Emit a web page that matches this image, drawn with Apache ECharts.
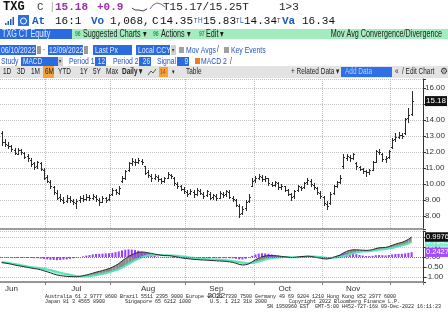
<!DOCTYPE html>
<html><head><meta charset="utf-8">
<script src="https://cdn.jsdelivr.net/npm/echarts@6/dist/echarts.min.js"></script>
<style>html,body{margin:0;padding:0;background:#fff;}#c{width:448px;height:322px;}</style>
</head><body><div id="c"></div><script>
const dates = ['2022-06-10','2022-06-13','2022-06-14','2022-06-15','2022-06-16','2022-06-17','2022-06-21','2022-06-22','2022-06-23','2022-06-24','2022-06-27','2022-06-28','2022-06-29','2022-06-30',
'2022-07-01','2022-07-05','2022-07-06','2022-07-07','2022-07-08','2022-07-11','2022-07-12','2022-07-13','2022-07-14','2022-07-15','2022-07-18','2022-07-19','2022-07-20','2022-07-21','2022-07-22','2022-07-25','2022-07-26','2022-07-27','2022-07-28','2022-07-29',
'2022-08-01','2022-08-02','2022-08-03','2022-08-04','2022-08-05','2022-08-08','2022-08-09','2022-08-10','2022-08-11','2022-08-12','2022-08-15','2022-08-16','2022-08-17','2022-08-18','2022-08-19','2022-08-22','2022-08-23','2022-08-24','2022-08-25','2022-08-26','2022-08-29','2022-08-30','2022-08-31',
'2022-09-01','2022-09-02','2022-09-06','2022-09-07','2022-09-08','2022-09-09','2022-09-12','2022-09-13','2022-09-14','2022-09-15','2022-09-16','2022-09-19','2022-09-20','2022-09-21','2022-09-22','2022-09-23','2022-09-26','2022-09-27','2022-09-28','2022-09-29','2022-09-30',
'2022-10-03','2022-10-04','2022-10-05','2022-10-06','2022-10-07','2022-10-10','2022-10-11','2022-10-12','2022-10-13','2022-10-14','2022-10-17','2022-10-18','2022-10-19','2022-10-20','2022-10-21','2022-10-24','2022-10-25','2022-10-26','2022-10-27','2022-10-28','2022-10-31',
'2022-11-01','2022-11-02','2022-11-03','2022-11-04','2022-11-07','2022-11-08','2022-11-09','2022-11-10','2022-11-11','2022-11-14','2022-11-15','2022-11-16','2022-11-17','2022-11-18','2022-11-21','2022-11-22','2022-11-23','2022-11-25','2022-11-28','2022-11-29','2022-11-30',
'2022-12-01','2022-12-02','2022-12-05','2022-12-06','2022-12-07','2022-12-08','2022-12-09'];

const open = [13.20,12.65,12.45,12.40,12.15,11.90,12.15,11.95,11.75,11.50,
11.30,11.10,11.30,10.90,10.45,10.15,9.80,9.45,9.20,9.00,
8.95,9.15,8.95,8.80,9.00,9.10,9.05,9.20,9.15,9.20,
9.00,8.90,9.10,9.05,9.35,9.60,9.45,10.20,10.40,10.85,
11.30,11.40,11.40,11.45,11.10,10.75,10.50,10.40,10.45,10.30,
10.20,10.40,10.55,10.40,10.00,9.85,9.70,9.50,9.45,9.50,
9.40,9.55,9.40,9.30,9.40,9.20,9.25,9.15,9.40,9.35,
9.50,9.15,9.00,8.65,8.20,8.50,8.95,9.90,10.25,10.40,
10.45,10.30,10.35,10.00,9.95,10.05,9.80,9.85,9.60,9.35,
9.25,9.60,9.80,9.80,10.10,10.20,9.95,9.75,9.45,9.20,
8.75,8.80,9.45,9.90,10.15,11.10,11.65,11.70,11.65,11.30,
11.05,10.95,10.80,10.75,10.90,11.40,12.00,11.90,11.55,11.70,
12.30,12.80,12.95,13.05,13.20,14.10,14.35];
const high = [13.30,12.80,12.60,12.45,12.25,12.25,12.20,12.00,11.85,11.60,
11.35,11.45,11.40,11.00,10.55,10.25,9.90,9.60,9.35,9.20,
9.30,9.25,9.05,9.05,9.25,9.30,9.35,9.30,9.40,9.30,
9.10,9.25,9.20,9.40,9.75,9.70,9.85,10.50,10.90,11.40,
11.60,11.55,11.65,11.55,11.15,10.85,10.60,10.65,10.55,10.40,
10.45,10.75,10.65,10.45,10.10,9.95,9.80,9.60,9.70,9.60,
9.75,9.70,9.50,9.65,9.50,9.40,9.35,9.55,9.50,9.65,
9.60,9.25,9.05,8.75,8.60,9.00,9.35,10.35,10.50,10.65,
10.55,10.50,10.40,10.15,10.20,10.10,10.00,9.90,9.70,9.45,
9.60,9.95,9.90,10.15,10.40,10.30,10.05,9.80,9.55,9.25,
8.95,9.50,9.95,10.20,10.55,11.85,11.90,11.80,11.95,11.35,
11.15,11.00,10.90,10.95,11.45,12.10,12.20,11.95,11.75,12.15,
12.85,13.20,13.25,13.20,14.15,14.75,15.83];
const low = [12.45,12.40,12.25,12.05,11.85,11.85,11.90,11.60,11.45,11.15,
10.95,11.00,10.85,10.30,10.10,9.75,9.40,9.05,8.95,8.80,
8.90,8.90,8.75,8.50,8.90,8.95,9.00,9.00,9.05,8.95,
8.70,8.85,8.90,9.00,9.30,9.40,9.35,10.10,10.30,10.80,
11.20,11.20,11.30,11.25,10.60,10.45,10.20,10.30,10.20,10.05,
10.15,10.35,10.35,9.95,9.75,9.60,9.45,9.25,9.35,9.20,
9.30,9.35,9.10,9.25,9.05,9.05,9.00,9.10,9.20,9.25,
9.10,8.95,8.60,7.95,8.10,8.40,8.85,9.85,10.10,10.30,
10.20,10.20,9.95,9.85,9.90,9.70,9.70,9.55,9.30,9.00,
9.15,9.55,9.65,9.75,10.00,9.90,9.70,9.40,9.10,8.70,
8.45,8.75,9.40,9.80,10.05,11.00,11.50,11.45,11.55,10.95,
10.85,10.70,10.50,10.65,10.85,11.35,11.85,11.45,11.40,11.65,
12.25,12.70,12.85,12.85,13.15,13.90,14.34];
const close = [12.60,12.50,12.35,12.20,11.95,12.10,12.00,11.70,11.60,11.25,
11.05,11.35,10.95,10.40,10.20,9.85,9.50,9.15,9.05,8.90,
9.10,9.00,8.85,8.95,9.15,9.05,9.20,9.10,9.25,9.05,
8.85,9.15,9.00,9.30,9.60,9.50,9.75,10.35,10.80,11.30,
11.45,11.35,11.50,11.40,10.70,10.55,10.35,10.50,10.30,10.20,
10.35,10.60,10.50,10.05,9.85,9.70,9.55,9.40,9.55,9.35,
9.60,9.45,9.25,9.55,9.15,9.30,9.10,9.45,9.30,9.55,
9.20,9.05,8.70,8.15,8.45,8.90,9.20,10.20,10.35,10.50,
10.30,10.40,10.05,9.95,10.10,9.80,9.90,9.65,9.40,9.20,
9.55,9.85,9.75,10.05,10.25,10.00,9.80,9.50,9.25,8.80,
8.65,9.40,9.85,10.10,10.40,11.70,11.75,11.60,11.85,11.10,
10.95,10.80,10.75,10.85,11.35,12.05,12.00,11.55,11.60,12.05,
12.75,12.95,13.05,13.00,14.05,14.28,15.18];

const macd = [-0.28,-0.30,-0.33,-0.36,-0.40,-0.43,-0.46,-0.49,-0.52,-0.55,
-0.58,-0.60,-0.64,-0.69,-0.74,-0.79,-0.85,-0.90,-0.93,-0.95,
-0.97,-0.98,-0.98,-0.99,-0.97,-0.94,-0.90,-0.86,-0.81,-0.76,
-0.72,-0.68,-0.63,-0.58,-0.51,-0.43,-0.33,-0.20,-0.08,0.03,
0.11,0.18,0.23,0.25,0.24,0.21,0.18,0.15,0.12,0.09,
0.07,0.07,0.06,0.03,0.00,-0.03,-0.06,-0.08,-0.10,-0.12,
-0.13,-0.14,-0.15,-0.16,-0.17,-0.18,-0.19,-0.20,-0.21,-0.22,
-0.24,-0.27,-0.31,-0.37,-0.40,-0.39,-0.34,-0.24,-0.14,-0.06,
0.01,0.05,0.07,0.07,0.06,0.05,0.03,0.01,-0.01,-0.03,
-0.02,0.00,0.02,0.03,0.04,0.03,0.00,-0.03,-0.06,-0.09,
-0.10,-0.07,-0.02,0.04,0.10,0.20,0.28,0.33,0.36,0.36,
0.35,0.34,0.33,0.34,0.37,0.42,0.46,0.47,0.48,0.52,
0.58,0.64,0.69,0.73,0.80,0.88,0.9976];
const signal = [-0.25,-0.27,-0.29,-0.32,-0.35,-0.38,-0.41,-0.44,-0.47,-0.50,
-0.52,-0.54,-0.56,-0.59,-0.62,-0.65,-0.70,-0.74,-0.78,-0.82,
-0.85,-0.89,-0.92,-0.95,-0.97,-0.97,-0.97,-0.96,-0.94,-0.91,
-0.88,-0.85,-0.81,-0.77,-0.72,-0.67,-0.61,-0.53,-0.44,-0.35,
-0.26,-0.17,-0.09,-0.02,0.04,0.07,0.09,0.10,0.10,0.10,
0.09,0.09,0.08,0.07,0.06,0.04,0.02,0.00,-0.02,-0.04,
-0.06,-0.08,-0.09,-0.10,-0.11,-0.12,-0.13,-0.14,-0.15,-0.16,
-0.18,-0.20,-0.22,-0.25,-0.28,-0.30,-0.31,-0.30,-0.27,-0.23,
-0.18,-0.13,-0.09,-0.06,-0.04,-0.02,-0.01,0.00,0.00,-0.01,
-0.01,-0.01,0.00,0.01,0.02,0.02,0.02,0.01,0.00,-0.02,
-0.04,-0.05,-0.04,-0.02,0.00,0.04,0.09,0.14,0.18,0.22,
0.25,0.27,0.28,0.29,0.31,0.33,0.36,0.38,0.40,0.42,
0.45,0.49,0.53,0.57,0.62,0.67,0.7549];
const hist = [-0.03,-0.03,-0.04,-0.04,-0.05,-0.05,-0.05,-0.05,-0.05,-0.05,
-0.06,-0.06,-0.08,-0.10,-0.12,-0.14,-0.15,-0.16,-0.15,-0.13,
-0.12,-0.09,-0.06,-0.04,0.00,0.03,0.07,0.10,0.13,0.15,
0.16,0.17,0.18,0.19,0.21,0.24,0.28,0.33,0.36,0.38,
0.37,0.35,0.32,0.27,0.20,0.14,0.09,0.05,0.02,-0.01,
-0.02,-0.02,-0.02,-0.04,-0.06,-0.07,-0.08,-0.08,-0.08,-0.08,
-0.07,-0.06,-0.06,-0.06,-0.06,-0.06,-0.06,-0.06,-0.06,-0.06,
-0.06,-0.07,-0.09,-0.12,-0.12,-0.09,-0.03,0.06,0.13,0.17,
0.19,0.18,0.16,0.13,0.10,0.07,0.04,0.01,-0.01,-0.02,
-0.01,0.01,0.02,0.02,0.02,0.01,-0.02,-0.04,-0.06,-0.07,
-0.06,-0.02,0.02,0.06,0.10,0.16,0.19,0.19,0.18,0.14,
0.10,0.07,0.05,0.05,0.06,0.09,0.10,0.09,0.08,0.10,
0.13,0.15,0.16,0.16,0.18,0.21,0.2427];

const monthLabelDates = ['2022-06-15','2022-07-15','2022-08-16','2022-09-15','2022-10-14','2022-11-14'];
const monthLabels = ['Jun','Jul','Aug','Sep\n2022','Oct','Nov'];

const FS = "'Liberation Sans',Arial,sans-serif";
const FM = "'Liberation Mono','DejaVu Sans Mono',monospace";

const n = dates.length;
const xCats = dates.concat(['p1','p2','p3']);
const monthStart = new Set();
dates.forEach((d,i)=>{ if(i>0 && d.slice(5,7)!==dates[i-1].slice(5,7)) monthStart.add(i); });
const labelAt = {};
monthLabelDates.forEach((d,k)=>{ labelAt[d]=monthLabels[k]; });

const ohlcData = dates.map((d,i)=>[i, open[i], high[i], low[i], close[i]]);
const fillData = [];
for(let i=0;i<n-1;i++) fillData.push([i, macd[i], signal[i], macd[i+1], signal[i+1]]);

function renderOHLC(params, api){
  const i = api.value(0);
  const pH = api.coord([i, api.value(2)]);
  const pL = api.coord([i, api.value(3)]);
  const pO = api.coord([i, api.value(1)]);
  const pC = api.coord([i, api.value(4)]);
  const x = Math.round(pH[0]) + 0.5;
  const yo = Math.round(pO[1]) + 0.5, yc = Math.round(pC[1]) + 0.5;
  const st = {stroke:'#2b2b2b', lineWidth:1};
  return {type:'group', children:[
    {type:'line', shape:{x1:x, y1:Math.round(pH[1]), x2:x, y2:Math.round(pL[1])+1}, style:st},
    {type:'line', shape:{x1:x-1.5, y1:yo, x2:x, y2:yo}, style:st},
    {type:'line', shape:{x1:x, y1:yc, x2:x+1.5, y2:yc}, style:st}
  ]};
}
function renderFill(params, api){
  const i = api.value(0);
  const a = api.coord([i, api.value(1)]), b = api.coord([i+1, api.value(3)]);
  const c = api.coord([i+1, api.value(4)]), d = api.coord([i, api.value(2)]);
  const up = api.value(1)+api.value(3) >= api.value(2)+api.value(4);
  return {type:'polygon', shape:{points:[a,b,c,d]}, style:{fill: up ? '#8c8c8c' : '#a6f3d9'}};
}

function T(x,y,text,fill,font,align){
  return {type:'text', x:x, y:y, silent:true, style:{text:text, fill:fill, font:font,
    textAlign:align||'left', textVerticalAlign:'middle', align:align||'left', verticalAlign:'middle'}};
}
// condensed UI text (horizontally squeezed sans)
function N(x,y,text,fill,size,align,bold){
  const t = T(x,y,text,fill,(bold?'bold ':'')+size+'px '+FS,align);
  t.scaleX = 0.72;
  return t;
}
function R(x,y,w,h,fill){ return {type:'rect', silent:true, shape:{x:x,y:y,width:w,height:h}, style:{fill:fill}}; }

const BLUE='#2b6be0', BTX='#e3ebff', LBL='#2352c4', HB='#1a5bbf', PUR='#9b2fae', GRN='#2b9c50', DK='#1d1d1d';
const f11='11px '+FM, b11='bold 11px '+FM;
const graphics = [
  // row 1
  T(3,7,'TXG','#111','bold 12px '+FM),
  T(37,7,'C','#444',f11),
  T(49,7,'|','#aaa',f11),
  T(55,7,'15.18',PUR,b11),
  T(97,7,'+0.9',PUR,b11),
  {type:'polyline', silent:true, shape:{points:[[132,8],[135,10],[139,10],[143,11],[147,9]]}, style:{stroke:'#444',lineWidth:1,fill:null}},
  {type:'polyline', silent:true, shape:{points:[[150,9],[153,5],[157,3],[161,4],[165,7]]}, style:{stroke:'#8a5a9a',lineWidth:1,fill:null}},
  T(163,7,'T15.17/15.25T','#222',f11),
  T(279,7,'1>3','#222',f11),
  // row 2
  R(5,23,1.5,2,HB), R(7.5,21,1.5,4,HB), R(10,19,1.5,6,HB), R(12.5,17,1.5,8,HB),
  R(18,15,11,11,'#2d6fdc'),
  {type:'circle', silent:true, shape:{cx:23.5,cy:21,r:3}, style:{stroke:'#fff',fill:null,lineWidth:1}},
  T(32,21,'At',HB,b11),
  T(55,21,'16:1','#111',f11),
  T(91,21,'Vo',HB,b11),
  T(110,21,'1,068,','#111',f11),
  T(152,21,'C','#111',f11),
  T(160,21,'14.35','#111',f11),
  N(194,21,'T','#333',8), N(198,21,'H',HB,9),
  T(203,21,'15.83','#111',f11),
  N(236,21,'T','#333',8), N(240,21,'L',HB,9),
  T(244,21,'14.34','#111',f11),
  N(277,21,'T','#333',8),
  T(282,21,'Va',HB,b11),
  T(302,21,'16.34','#111',f11),
  // row 3
  R(0,29,72,10,BLUE), N(2,34,'TXG CT Equity',BTX,10),
  R(72,29,376,10,'#a4ecbf'),
  N(75,34,'96',GRN,7,'left',true), N(83,34,'Suggested Charts \u25BE',DK,10),
  N(153,34,'96',GRN,7,'left',true), N(161,34,'Actions \u25BE',DK,10),
  N(199,34,'97',GRN,7,'left',true), N(206,34,'Edit \u25BE',DK,10),
  N(442,34,'Mov Avg Convergence/Divergence',DK,10,'right'),
  // row 4
  R(0,45,36,10,BLUE), N(1,50,'06/10/2022',BTX,9.5),
  R(37,46,4,8,'#9a9a9a'), N(43,50,'-','#333',9),
  R(48,45,35,10,BLUE), N(49,50,'12/09/2022',BTX,9.5),
  R(84,46,4,8,'#9a9a9a'),
  R(93,45,39,10,BLUE), N(95,50,'Last Px',BTX,9.5),
  R(136,45,34,10,BLUE), N(138,50,'Local CCY',BTX,9.5),
  R(171,45,5,10,'#d0d0d0'), N(171.5,50,'\u25BE','#333',6),
  R(179,47,5,6,'#a0a0a0'), N(186,50,'Mov Avgs',LBL,9.5), N(217,50,'/','#333',9),
  R(224,47,5,6,'#a0a0a0'), N(231,50,'Key Events',LBL,9.5),
  // row 5
  N(1,61.5,'Study',LBL,9.5),
  R(21,57,37,9,BLUE), N(23,61.5,'MACD',BTX,9),
  R(58,57,5,9,'#d0d0d0'), N(58.5,61.5,'\u25BE','#333',6),
  N(69,61.5,'Period 1',LBL,9.5),
  R(95,57,11,9,BLUE), N(105,61.5,'12',BTX,9,'right'),
  N(113,61.5,'Period 2',LBL,9.5),
  R(139,57,12,9,BLUE), N(150,61.5,'26',BTX,9,'right'),
  N(157,61.5,'Signal',LBL,9.5),
  R(177,57,12,9,BLUE), N(188,61.5,'9',BTX,9,'right'),
  R(195,58,5,6,'#ef7d22'),
  N(201,61.5,'MACD 2',LBL,9.5), N(230,61.5,'/','#333',9),
  // row 6
  R(0,66,448,12,'#e3e3e3'),
  N(3,72,'1D','#222',9), N(17,72,'3D','#222',9), N(31,72,'1M','#222',9),
  R(43,66,11,12,'#f6a13a'), N(45,72,'6M','#222',9),
  N(58,72,'YTD','#222',9), N(80,72,'1Y','#222',9), N(93,72,'5Y','#222',9), N(106,72,'Max','#222',9),
  N(122,72,'Daily \u25BE','#222',9,'left',true),
  {type:'polyline', silent:true, shape:{points:[[148,75],[151,71],[153,73],[156,69]]}, style:{stroke:'#555',lineWidth:1,fill:null}},
  R(159,67,9,10,'#f6a13a'), N(160,72,'14','#b84000',7),
  N(172,72,'\u25BE','#222',7),
  N(186,72,'Table','#222',9),
  N(291,72,'+ Related Data \u25BE','#222',9),
  R(341,67,51,10,'#2f6fe8'), N(345,72,'Add Data','#b9d0ff',9),
  N(395,72,'\u00AB','#222',9),
  N(402,72,'/ Edit Chart','#222',9),
  T(440,72,'\u2699','#333','9px sans-serif'),
  // footer
  T(45,297,'Australia 61 2 9777 8600 Brazil 5511 2395 9000 Europe 44 20 7330 7500 Germany 49 69 9204 1210 Hong Kong 852 2977 6000','#222','5px '+FM),
  T(45,302,'Japan 81 3 4565 8900','#222','5px '+FM),
  T(125,302,'Singapore 65 6212 1000','#222','5px '+FM),
  T(210,302,'U.S. 1 212 318 2000','#222','5px '+FM),
  T(289,302,'Copyright 2022 Bloomberg Finance L.P.','#222','5px '+FM),
  T(267,307,'SN 1950960 EST  GMT-5:00 H452-727-168 09-Dec-2022 16:11:23','#222','5px '+FM)
];

const gridCol = '#c2c2c2';
const CLEAR = 'rgba(0,0,0,0)';
const splitX = {show:true, interval:(i)=>monthStart.has(i), lineStyle:{color:gridCol, type:'dotted', width:1}};
function tagItem(val, txt, bg, fg, fs){
  return {yAxis:val, lineStyle:{color:CLEAR, width:0}, label:{show:true, position:'end', distance:2, formatter:txt,
    color:fg, backgroundColor:bg, padding:[1,1,0,1], fontSize:fs, fontFamily:FS, lineHeight:fs+1}};
}
function tag(val, txt, bg, fg, z, fs){
  return {silent:true, symbol:['none','none'], z:z, animation:false, data:[tagItem(val, txt, bg, fg, fs)]};
}
const last = n-1;
const chart = echarts.init(document.getElementById('c'), null, {renderer:'canvas', width:448, height:322});
chart.setOption({
  animation:false,
  backgroundColor:'#fff',
  grid:[{left:0,right:25,top:79,height:150},{left:0,right:25,top:231,height:51}],
  xAxis:[
    {type:'category', gridIndex:0, data:xCats, boundaryGap:true,
     axisLine:{show:true, onZero:false, lineStyle:{color:'#9c9c9c', width:2}},
     axisTick:{show:false}, axisLabel:{show:false}, splitLine:splitX},
    {type:'category', gridIndex:1, data:xCats, boundaryGap:true,
     axisLine:{show:true, onZero:false, lineStyle:{color:'#7a7a7a', width:1.5}},
     axisTick:{show:true, interval:(i)=>monthStart.has(i), length:3, lineStyle:{color:'#7a7a7a'}},
     axisLabel:{show:true, interval:(i,v)=>labelAt[v]!==undefined, formatter:(v)=>labelAt[v]||'',
       color:'#333', fontSize:8, fontFamily:FS, margin:3, lineHeight:7},
     splitLine:splitX}
  ],
  yAxis:[
    {type:'value', gridIndex:0, position:'right', min:7.19, max:16.56, minInterval:1, maxInterval:1,
     axisLine:{show:true, lineStyle:{color:'#333'}}, axisTick:{show:true, length:3, lineStyle:{color:'#333'}},
     axisLabel:{margin:2, color:'#333', fontSize:8, fontFamily:FS,
       formatter:(v)=>Math.abs(v-Math.round(v))<1e-6 ? v.toFixed(2) : ''},
     splitLine:{show:true, lineStyle:{color:gridCol, type:'dotted'}}},
    {type:'value', gridIndex:1, position:'right', min:-1.25, max:1.3, minInterval:0.5, maxInterval:0.5,
     axisLine:{show:true, lineStyle:{color:'#333'}}, axisTick:{show:true, length:3, lineStyle:{color:'#333'}},
     axisLabel:{margin:2, color:'#333', fontSize:8, fontFamily:FS,
       formatter:(v)=>Math.abs(v*2-Math.round(v*2))<1e-6 ? v.toFixed(2) : ''},
     splitLine:{show:true, lineStyle:{color:gridCol, type:'dotted'}}}
  ],
  series:[
    {name:'TXG', type:'custom', xAxisIndex:0, yAxisIndex:0, data:ohlcData, renderItem:renderOHLC,
     encode:{x:0, y:[1,2,3,4]}, z:3, silent:true},
    {name:'Last', type:'line', xAxisIndex:0, yAxisIndex:0, data:close, symbol:'none', silent:true,
     lineStyle:{color:CLEAR, width:0}, z:1, markLine:tag(close[last], close[last].toFixed(2), '#111', '#fff', 12, 8)},
    {name:'Fill', type:'custom', xAxisIndex:1, yAxisIndex:1, data:fillData, renderItem:renderFill,
     encode:{x:0, y:[1,2,3,4]}, z:1, silent:true},
    {name:'Hist', type:'bar', xAxisIndex:1, yAxisIndex:1, data:hist, barWidth:2, silent:true, z:2,
     itemStyle:{color:'#9a3cff'},
     markLine:{silent:true, symbol:['none','none'], z:10,
       data:[{yAxis:0, lineStyle:{color:'#9a3cff', type:'dotted', width:1}, label:{show:false}},
             tagItem(hist[last], hist[last].toFixed(4), '#a44dff', '#fff', 7.5)]}},
    {name:'Signal', type:'line', xAxisIndex:1, yAxisIndex:1, data:signal, symbol:'none', silent:true, z:3,
     lineStyle:{color:'#55e3b8', width:2}, markLine:tag(signal[last], signal[last].toFixed(4), '#86ecce', '#f4fffb', 11, 7.5)},
    {name:'MACD', type:'line', xAxisIndex:1, yAxisIndex:1, data:macd, symbol:'none', silent:true, z:4,
     lineStyle:{color:'#2a2a2a', width:1}, markLine:tag(macd[last], macd[last].toFixed(4), '#111', '#fff', 13, 7.5)}
  ],
  graphic:graphics
});
</script></body></html>
